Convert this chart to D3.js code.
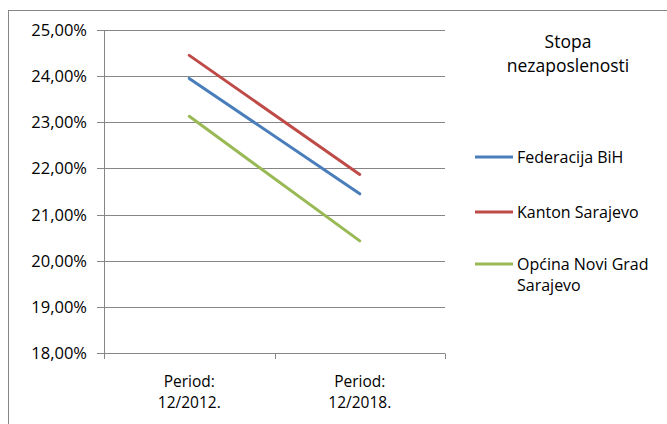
<!DOCTYPE html>
<html><head><meta charset="utf-8">
<script src="https://cdn.jsdelivr.net/npm/d3@7"></script>
<style>
body{margin:0;background:#fff;}
svg{display:block;font-family:"Open Sans",sans-serif;}
</style></head>
<body><svg id="c" width="667" height="424"></svg>
<script>
const categories = [["Period:", "12/2012."], ["Period:", "12/2018."]];
const seriesNames = ["Federacija BiH", "Kanton Sarajevo", ["Općina Novi Grad", "Sarajevo"]];
const fedValues = [0.2395, 0.2145];
const kantonValues = [0.2445, 0.2187];
const noviGradValues = [0.2313, 0.2043];
const yTicks = [0.18, 0.19, 0.20, 0.21, 0.22, 0.23, 0.24, 0.25];
const legendTitle = ["Stopa", "nezaposlenosti"];
const colors = ["#4a7ebb", "#be4b48", "#98b954"];

const series = [fedValues, kantonValues, noviGradValues];
const svg = d3.select("#c");
svg.append("rect").attr("x", 8.5).attr("y", 10.5).attr("width", 700).attr("height", 500)
  .attr("fill", "none").attr("stroke", "#868686").attr("stroke-width", 1);

const x = d3.scaleBand().domain(d3.range(categories.length)).range([104, 445]);
const y = d3.scaleLinear().domain([0.18, 0.25]).range([353, 30]);

// gridlines
svg.append("g").selectAll("line").data(yTicks).join("line")
  .attr("x1", 97).attr("x2", 445)
  .attr("y1", d => Math.round(y(d)) + 0.5).attr("y2", d => Math.round(y(d)) + 0.5)
  .attr("stroke", "#868686").attr("stroke-width", 1);

const fmt = d => (d * 100).toFixed(2).replace(".", ",") + "%";
svg.append("g").selectAll("text").data(yTicks).join("text")
  .attr("x", 87).attr("y", d => y(d)).attr("dy", "0.36em")
  .attr("text-anchor", "end").attr("font-size", 16.5).attr("fill", "#000")
  .text(fmt);

// y axis line
svg.append("line").attr("x1", 104.5).attr("x2", 104.5).attr("y1", 30).attr("y2", 354)
  .attr("stroke", "#868686");
// x axis ticks
svg.append("g").selectAll("line").data(x.domain().concat([categories.length])).join("line")
  .attr("x1", d => Math.round(d < categories.length ? x(d) : x.range()[1]) + 0.5)
  .attr("x2", d => Math.round(d < categories.length ? x(d) : x.range()[1]) + 0.5)
  .attr("y1", 353.5).attr("y2", 359).attr("stroke", "#868686");

// x labels
categories.forEach((c, i) => {
  const cx = x(i) + x.bandwidth() / 2;
  const t = svg.append("text").attr("x", cx).attr("y", 387)
    .attr("text-anchor", "middle").attr("font-size", 15.5).attr("fill", "#000");
  c.forEach((s, j) => t.append("tspan").attr("x", cx).attr("dy", j ? 21 : 0).text(s));
});

// lines
const line = d3.line().x((d, i) => x(i) + x.bandwidth() / 2).y(d => y(d));
series.forEach((s, i) => {
  svg.append("path").datum(s).attr("d", line).attr("fill", "none")
    .attr("stroke", colors[i]).attr("stroke-width", 3).attr("stroke-linecap", "round");
});

// legend title
const lt = svg.append("text").attr("x", 568).attr("y", 48).attr("text-anchor", "middle")
  .attr("font-size", 17.5).attr("fill", "#000");
legendTitle.forEach((s, j) => lt.append("tspan").attr("x", 568).attr("dy", j ? 24 : 0).text(s));

const legY = [157, 212, 264];
seriesNames.forEach((n, i) => {
  svg.append("line").attr("x1", 475).attr("x2", 513).attr("y1", legY[i]).attr("y2", legY[i])
    .attr("stroke", colors[i]).attr("stroke-width", 3);
  const t = svg.append("text").attr("x", 517).attr("y", legY[i])
    .attr("font-size", 16).attr("fill", "#000");
  const lines = Array.isArray(n) ? n : [n];
  lines.forEach((s, j) => t.append("tspan").attr("x", 517).attr("dy", j ? 21.5 : "0.36em").text(s));
});
</script></body></html>
